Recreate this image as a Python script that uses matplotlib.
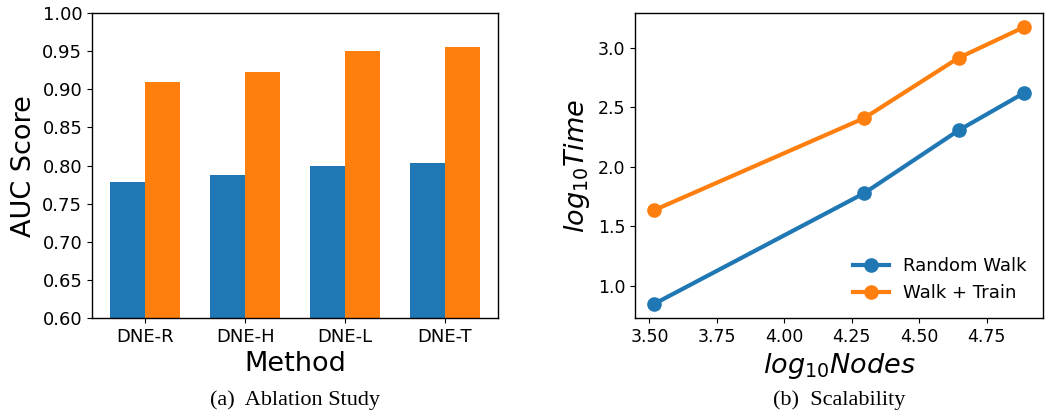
import matplotlib

matplotlib.use("Agg")
import matplotlib.pyplot as plt
import numpy as np

# ablation study (AUC per method variant)
methods = ["DNE-R", "DNE-H", "DNE-L", "DNE-T"]
auc_blue = [0.779, 0.788, 0.799, 0.803]
auc_orange = [0.909, 0.923, 0.950, 0.956]

# scalability (log10 nodes vs log10 time)
log_nodes = [3.515, 4.296, 4.646, 4.890]
time_walk = [0.846, 1.779, 2.307, 2.623]
time_walk_train = [1.634, 2.410, 2.916, 3.176]

BLUE = "#1f77b4"
ORANGE = "#ff7f0e"

fig = plt.figure(figsize=(10.48, 4.18), dpi=100)
ax1 = fig.add_axes([0.0878, 0.239, 0.3874, 0.7297])
ax2 = fig.add_axes([0.6059, 0.239, 0.3893, 0.7297])

x = np.arange(len(methods))
w = 0.35
ax1.bar(x - w / 2, auc_blue, w, color=BLUE)
ax1.bar(x + w / 2, auc_orange, w, color=ORANGE)
ax1.set_ylim(0.60, 1.00)
ax1.set_yticks(np.arange(0.60, 1.001, 0.05))
ax1.set_xticks(x)
ax1.set_xticklabels(methods, fontsize=13)
ax1.tick_params(axis="y", labelsize=13)
ax1.set_ylabel("AUC Score", fontsize=19.5)
ax1.set_xlabel("Method", fontsize=19.5)

ax2.plot(log_nodes, time_walk, "-o", color=BLUE, lw=3.0, ms=9.5, label="Random Walk")
ax2.plot(log_nodes, time_walk_train, "-o", color=ORANGE, lw=3.0, ms=9.5, label="Walk + Train")
ax2.set_xticks([3.50, 3.75, 4.00, 4.25, 4.50, 4.75])
ax2.set_yticks([1.0, 1.5, 2.0, 2.5, 3.0])
ax2.tick_params(labelsize=12.5)
ax2.set_ylabel(r"$log_{10}Time$", fontsize=19.5)
ax2.set_xlabel(r"$log_{10}Nodes$", fontsize=19.5)
ax2.legend(loc="lower right", frameon=False, fontsize=13)

for ax in (ax1, ax2):
    for s in ax.spines.values():
        s.set_linewidth(1.0)

fig.text(0.2815, 0.043, "(a)  Ablation Study", ha="center", va="center",
         family="Liberation Serif", fontsize=16)
fig.text(0.8005, 0.043, "(b)  Scalability", ha="center", va="center",
         family="Liberation Serif", fontsize=16)

fig.savefig("out.png", dpi=100)
